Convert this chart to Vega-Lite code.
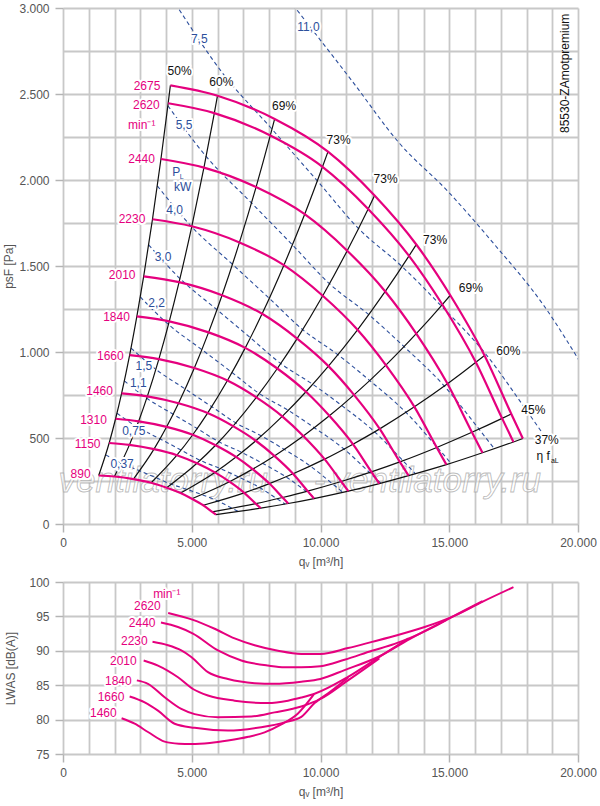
{
"$schema":"https://vega.github.io/schema/vega-lite/v6.json",
"padding":{"left":2,"top":2,"right":5,"bottom":4},
"config":{"font":"Liberation Sans","view":{"stroke":null},
"axis":{"grid":true,"gridColor":"#c8c8c8","gridWidth":1.8,"domain":false,"tickColor":"#b4b4b4","tickWidth":1.5,"tickSize":8,"labelColor":"#555555","labelFontSize":12,"labelFont":"Liberation Sans","labelPadding":5,"titleColor":"#555555","titleFontSize":12,"titleFont":"Liberation Sans","titleFontWeight":"normal","labelFlush":false,"labelOverlap":false},
"text":{"font":"Liberation Sans"}},
"datasets":{
"curves":[
{"n":2675,"e":1,"q":4170,"p":2550},{"n":2675,"e":2,"q":6000,"p":2490},{"n":2675,"e":3,"q":8220,"p":2355},{"n":2675,"e":4,"q":10290,"p":2165},{"n":2675,"e":5,"q":12100,"p":1910},{"n":2675,"e":6,"q":13720,"p":1625},{"n":2675,"e":7,"q":15040,"p":1330},{"n":2675,"e":8,"q":16370,"p":980},{"n":2675,"e":9,"q":17410,"p":640},{"n":2675,"e":10,"q":17860,"p":497},
{"n":2620,"e":1,"q":4084,"p":2446},{"n":2620,"e":2,"q":5877,"p":2389},{"n":2620,"e":3,"q":8051,"p":2259},{"n":2620,"e":4,"q":10078,"p":2077},{"n":2620,"e":5,"q":11851,"p":1832},{"n":2620,"e":6,"q":13438,"p":1559},{"n":2620,"e":7,"q":14731,"p":1276},{"n":2620,"e":8,"q":16033,"p":940},{"n":2620,"e":9,"q":17052,"p":614},{"n":2620,"e":10,"q":17493,"p":477},
{"n":2440,"e":1,"q":3804,"p":2122},{"n":2440,"e":2,"q":5473,"p":2072},{"n":2440,"e":3,"q":7498,"p":1959},{"n":2440,"e":4,"q":9386,"p":1801},{"n":2440,"e":5,"q":11037,"p":1589},{"n":2440,"e":6,"q":12515,"p":1352},{"n":2440,"e":7,"q":13719,"p":1107},{"n":2440,"e":8,"q":14932,"p":815},{"n":2440,"e":9,"q":15881,"p":533},{"n":2440,"e":10,"q":16291,"p":414},
{"n":2230,"e":1,"q":3476,"p":1772},{"n":2230,"e":2,"q":5002,"p":1731},{"n":2230,"e":3,"q":6853,"p":1637},{"n":2230,"e":4,"q":8578,"p":1505},{"n":2230,"e":5,"q":10087,"p":1327},{"n":2230,"e":6,"q":11438,"p":1129},{"n":2230,"e":7,"q":12538,"p":924},{"n":2230,"e":8,"q":13647,"p":681},{"n":2230,"e":9,"q":14514,"p":445},{"n":2230,"e":10,"q":14889,"p":345},
{"n":2010,"e":1,"q":3133,"p":1440},{"n":2010,"e":2,"q":4508,"p":1406},{"n":2010,"e":3,"q":6177,"p":1330},{"n":2010,"e":4,"q":7732,"p":1222},{"n":2010,"e":5,"q":9092,"p":1078},{"n":2010,"e":6,"q":10309,"p":918},{"n":2010,"e":7,"q":11301,"p":751},{"n":2010,"e":8,"q":12300,"p":553},{"n":2010,"e":9,"q":13082,"p":361},{"n":2010,"e":10,"q":13420,"p":281},
{"n":1840,"e":1,"q":2868,"p":1207},{"n":1840,"e":2,"q":4127,"p":1178},{"n":1840,"e":3,"q":5654,"p":1114},{"n":1840,"e":4,"q":7078,"p":1024},{"n":1840,"e":5,"q":8323,"p":904},{"n":1840,"e":6,"q":9437,"p":769},{"n":1840,"e":7,"q":10345,"p":629},{"n":1840,"e":8,"q":11260,"p":464},{"n":1840,"e":9,"q":11976,"p":303},{"n":1840,"e":10,"q":12285,"p":235},
{"n":1660,"e":1,"q":2588,"p":982},{"n":1660,"e":2,"q":3723,"p":959},{"n":1660,"e":3,"q":5101,"p":907},{"n":1660,"e":4,"q":6386,"p":834},{"n":1660,"e":5,"q":7509,"p":736},{"n":1660,"e":6,"q":8514,"p":626},{"n":1660,"e":7,"q":9333,"p":512},{"n":1660,"e":8,"q":10159,"p":377},{"n":1660,"e":9,"q":10804,"p":247},{"n":1660,"e":10,"q":11083,"p":191},
{"n":1460,"e":1,"q":2276,"p":760},{"n":1460,"e":2,"q":3275,"p":742},{"n":1460,"e":3,"q":4486,"p":702},{"n":1460,"e":4,"q":5616,"p":645},{"n":1460,"e":5,"q":6604,"p":569},{"n":1460,"e":6,"q":7488,"p":484},{"n":1460,"e":7,"q":8209,"p":396},{"n":1460,"e":8,"q":8935,"p":292},{"n":1460,"e":9,"q":9502,"p":191},{"n":1460,"e":10,"q":9748,"p":148},
{"n":1310,"e":1,"q":2042,"p":612},{"n":1310,"e":2,"q":2938,"p":597},{"n":1310,"e":3,"q":4026,"p":565},{"n":1310,"e":4,"q":5039,"p":519},{"n":1310,"e":5,"q":5926,"p":458},{"n":1310,"e":6,"q":6719,"p":390},{"n":1310,"e":7,"q":7365,"p":319},{"n":1310,"e":8,"q":8017,"p":235},{"n":1310,"e":9,"q":8526,"p":154},{"n":1310,"e":10,"q":8746,"p":119},
{"n":1150,"e":1,"q":1793,"p":471},{"n":1150,"e":2,"q":2580,"p":460},{"n":1150,"e":3,"q":3534,"p":435},{"n":1150,"e":4,"q":4424,"p":400},{"n":1150,"e":5,"q":5202,"p":353},{"n":1150,"e":6,"q":5898,"p":300},{"n":1150,"e":7,"q":6466,"p":246},{"n":1150,"e":8,"q":7038,"p":181},{"n":1150,"e":9,"q":7485,"p":118},{"n":1150,"e":10,"q":7678,"p":92},
{"n":890,"e":1,"q":1387,"p":282},{"n":890,"e":2,"q":1996,"p":276},{"n":890,"e":3,"q":2735,"p":261},{"n":890,"e":4,"q":3424,"p":240},{"n":890,"e":5,"q":4026,"p":211},{"n":890,"e":6,"q":4565,"p":180},{"n":890,"e":7,"q":5004,"p":147},{"n":890,"e":8,"q":5447,"p":109},{"n":890,"e":9,"q":5793,"p":71},{"n":890,"e":10,"q":5942,"p":55}
],
"power":[
{"P":"0,37","e":1,"q":1656,"p":402},{"P":"0,37","e":2,"q":2261,"p":354},{"P":"0,37","e":3,"q":2976,"p":309},{"P":"0,37","e":4,"q":3623,"p":268},{"P":"0,37","e":5,"q":4209,"p":231},{"P":"0,37","e":6,"q":4829,"p":201},{"P":"0,37","e":7,"q":5387,"p":171},{"P":"0,37","e":8,"q":6023,"p":133},{"P":"0,37","e":9,"q":6572,"p":91},{"P":"0,37","e":10,"q":6814,"p":72},
{"P":"0,75","e":1,"q":2096,"p":644},{"P":"0,75","e":2,"q":2861,"p":566},{"P":"0,75","e":3,"q":3766,"p":495},{"P":"0,75","e":4,"q":4585,"p":430},{"P":"0,75","e":5,"q":5327,"p":370},{"P":"0,75","e":6,"q":6111,"p":322},{"P":"0,75","e":7,"q":6818,"p":273},{"P":"0,75","e":8,"q":7623,"p":213},{"P":"0,75","e":9,"q":8317,"p":146},{"P":"0,75","e":10,"q":8624,"p":116},
{"P":"1,1","e":1,"q":2381,"p":832},{"P":"1,1","e":2,"q":3251,"p":731},{"P":"1,1","e":3,"q":4279,"p":638},{"P":"1,1","e":4,"q":5210,"p":555},{"P":"1,1","e":5,"q":6052,"p":478},{"P":"1,1","e":6,"q":6944,"p":416},{"P":"1,1","e":7,"q":7746,"p":353},{"P":"1,1","e":8,"q":8661,"p":274},{"P":"1,1","e":9,"q":9450,"p":189},{"P":"1,1","e":10,"q":9798,"p":149},
{"P":"1,5","e":1,"q":2641,"p":1023},{"P":"1,5","e":2,"q":3605,"p":899},{"P":"1,5","e":3,"q":4745,"p":785},{"P":"1,5","e":4,"q":5777,"p":682},{"P":"1,5","e":5,"q":6711,"p":588},{"P":"1,5","e":6,"q":7700,"p":512},{"P":"1,5","e":7,"q":8590,"p":434},{"P":"1,5","e":8,"q":9604,"p":337},{"P":"1,5","e":9,"q":10479,"p":232},{"P":"1,5","e":10,"q":10865,"p":184},
{"P":"2,2","e":1,"q":3000,"p":1320},{"P":"2,2","e":2,"q":4096,"p":1160},{"P":"2,2","e":3,"q":5391,"p":1014},{"P":"2,2","e":4,"q":6564,"p":881},{"P":"2,2","e":5,"q":7625,"p":758},{"P":"2,2","e":6,"q":8748,"p":661},{"P":"2,2","e":7,"q":9759,"p":560},{"P":"2,2","e":8,"q":10912,"p":436},{"P":"2,2","e":9,"q":11906,"p":299},{"P":"2,2","e":10,"q":12345,"p":237},
{"P":"3,0","e":1,"q":3327,"p":1623},{"P":"3,0","e":2,"q":4542,"p":1427},{"P":"3,0","e":3,"q":5979,"p":1246},{"P":"3,0","e":4,"q":7278,"p":1083},{"P":"3,0","e":5,"q":8456,"p":933},{"P":"3,0","e":6,"q":9701,"p":812},{"P":"3,0","e":7,"q":10822,"p":689},{"P":"3,0","e":8,"q":12100,"p":536},{"P":"3,0","e":9,"q":13203,"p":368},{"P":"3,0","e":10,"q":13689,"p":292},
{"P":"4,0","e":1,"q":3662,"p":1966},{"P":"4,0","e":2,"q":4999,"p":1728},{"P":"4,0","e":3,"q":6580,"p":1510},{"P":"4,0","e":4,"q":8011,"p":1312},{"P":"4,0","e":5,"q":9307,"p":1130},{"P":"4,0","e":6,"q":10678,"p":984},{"P":"4,0","e":7,"q":11911,"p":834},{"P":"4,0","e":8,"q":13318,"p":649},{"P":"4,0","e":9,"q":14532,"p":446},{"P":"4,0","e":10,"q":15067,"p":353},
{"P":"5,5","e":1,"q":4072,"p":2432},{"P":"5,5","e":2,"q":5559,"p":2137},{"P":"5,5","e":3,"q":7317,"p":1867},{"P":"5,5","e":4,"q":8908,"p":1623},{"P":"5,5","e":5,"q":10349,"p":1397},{"P":"5,5","e":6,"q":11874,"p":1217},{"P":"5,5","e":7,"q":13245,"p":1031},{"P":"5,5","e":8,"q":14809,"p":802},{"P":"5,5","e":9,"q":16159,"p":551},{"P":"5,5","e":10,"q":16754,"p":437},
{"P":"7,5","e":1,"q":4515,"p":2990},{"P":"7,5","e":2,"q":6165,"p":2628},{"P":"7,5","e":3,"q":8114,"p":2296},{"P":"7,5","e":4,"q":9878,"p":1995},{"P":"7,5","e":5,"q":11476,"p":1718},{"P":"7,5","e":6,"q":13167,"p":1497},{"P":"7,5","e":7,"q":14688,"p":1268},{"P":"7,5","e":8,"q":16422,"p":987},{"P":"7,5","e":9,"q":17919,"p":678},{"P":"7,5","e":10,"q":18579,"p":537},
{"P":"11,0","e":1,"q":5130,"p":3860},{"P":"11,0","e":2,"q":7004,"p":3392},{"P":"11,0","e":3,"q":9219,"p":2963},{"P":"11,0","e":4,"q":11224,"p":2576},{"P":"11,0","e":5,"q":13039,"p":2218},{"P":"11,0","e":6,"q":14960,"p":1932},{"P":"11,0","e":7,"q":16688,"p":1637},{"P":"11,0","e":8,"q":18659,"p":1273},{"P":"11,0","e":9,"q":20359,"p":875},{"P":"11,0","e":10,"q":21109,"p":694}
],
"toplabels":[
{"t":"2675","q":3262,"p":2549,"kind":"speed"},{"t":"2620","q":3235,"p":2438,"kind":"speed"},{"t":"min⁻¹","q":3060,"p":2322,"kind":"speed"},{"t":"2440","q":3052,"p":2124,"kind":"speed"},{"t":"2230","q":2680,"p":1776,"kind":"speed"},{"t":"2010","q":2297,"p":1446,"kind":"speed"},{"t":"1840","q":2077,"p":1203,"kind":"speed"},{"t":"1660","q":1837,"p":977,"kind":"speed"},{"t":"1460","q":1422,"p":772,"kind":"speed"},{"t":"1310","q":1184,"p":603,"kind":"speed"},{"t":"1150","q":955,"p":467,"kind":"speed"},{"t":"890","q":683,"p":293,"kind":"speed"},
{"t":"50%","q":4528,"p":2632,"kind":"eff"},{"t":"60%","q":6148,"p":2570,"kind":"eff"},{"t":"69%","q":8586,"p":2428,"kind":"eff"},{"t":"73%","q":10703,"p":2235,"kind":"eff"},{"t":"73%","q":12528,"p":2004,"kind":"eff"},{"t":"73%","q":14450,"p":1653,"kind":"eff"},{"t":"69%","q":15837,"p":1372,"kind":"eff"},{"t":"60%","q":17293,"p":1006,"kind":"eff"},{"t":"45%","q":18264,"p":661,"kind":"eff"},{"t":"37%","q":18788,"p":491,"kind":"eff"},{"t":"η f","q":18652,"p":394,"kind":"eff"},
{"t":"7,5","q":5293,"p":2822,"kind":"power"},{"t":"11,0","q":9534,"p":2890,"kind":"power"},{"t":"5,5","q":4699,"p":2318,"kind":"power"},{"t":"P","q":4400,"p":2045,"kind":"power"},{"t":"kW","q":4645,"p":1959,"kind":"power"},{"t":"4,0","q":4338,"p":1828,"kind":"power"},{"t":"3,0","q":3883,"p":1552,"kind":"power"},{"t":"2,2","q":3635,"p":1285,"kind":"power"},{"t":"1,5","q":3138,"p":917,"kind":"power"},{"t":"1,1","q":2924,"p":820,"kind":"power"},{"t":"0,75","q":2750,"p":541,"kind":"power"},{"t":"0,37","q":2295,"p":347,"kind":"power"}
],
"subs":[{"t":"L","q":4614,"p":2020,"kind":"power"},{"t":"aL","q":19099,"p":365,"kind":"eff"}],
"wm":[{"t":"ventilatorry.ru","q":3896,"p":184},{"t":"-","q":9965,"p":184},{"t":"ventilatorry.ru","q":14497,"p":184}],
"lw":[
{"n":2620,"q":4084,"L":95.5},{"n":2620,"q":5047,"L":94.5},{"n":2620,"q":5889,"L":93.2},{"n":2620,"q":6666,"L":91.8},{"n":2620,"q":7442,"L":90.8},{"n":2620,"q":8349,"L":90.0},{"n":2620,"q":9255,"L":89.55},{"n":2620,"q":10000,"L":89.55},{"n":2620,"q":11068,"L":90.4},{"n":2620,"q":12000,"L":91.3},{"n":2620,"q":13010,"L":92.3},{"n":2620,"q":14043,"L":93.45},{"n":2620,"q":15150,"L":95.0},{"n":2620,"q":16300,"L":97.15},{"n":2620,"q":17493,"L":99.25},
{"n":2440,"q":3804,"L":94.1},{"n":2440,"q":4465,"L":93.45},{"n":2440,"q":5047,"L":92.5},{"n":2440,"q":6018,"L":90.05},{"n":2440,"q":6924,"L":88.6},{"n":2440,"q":7960,"L":87.85},{"n":2440,"q":8607,"L":87.6},{"n":2440,"q":9255,"L":87.6},{"n":2440,"q":9995,"L":87.75},{"n":2440,"q":10936,"L":88.7},{"n":2440,"q":12000,"L":90.0},{"n":2440,"q":12878,"L":91.0},{"n":2440,"q":13460,"L":91.84},{"n":2440,"q":14300,"L":93.3},{"n":2440,"q":15150,"L":95.0},{"n":2440,"q":16291,"L":97.2},
{"n":2230,"q":3476,"L":91.3},{"n":2230,"q":4076,"L":90.8},{"n":2230,"q":4594,"L":90.05},{"n":2230,"q":4982,"L":89.1},{"n":2230,"q":5629,"L":86.9},{"n":2230,"q":6406,"L":85.9},{"n":2230,"q":7442,"L":85.3},{"n":2230,"q":8219,"L":85.2},{"n":2230,"q":9255,"L":85.5},{"n":2230,"q":9995,"L":85.9},{"n":2230,"q":10936,"L":87.2},{"n":2230,"q":12233,"L":89.1},{"n":2230,"q":13460,"L":91.7},{"n":2230,"q":14889,"L":94.5},
{"n":2010,"q":3133,"L":88.6},{"n":2010,"q":3688,"L":87.85},{"n":2010,"q":4465,"L":86.15},{"n":2010,"q":5047,"L":84.45},{"n":2010,"q":5629,"L":83.5},{"n":2010,"q":6666,"L":82.75},{"n":2010,"q":7960,"L":82.4},{"n":2010,"q":8737,"L":82.75},{"n":2010,"q":9255,"L":83.2},{"n":2010,"q":9771,"L":83.75},{"n":2010,"q":11068,"L":86.2},{"n":2010,"q":12361,"L":89.3},{"n":2010,"q":13420,"L":91.8},
{"n":1840,"q":2868,"L":85.7},{"n":1840,"q":3300,"L":85.2},{"n":1840,"q":3947,"L":83.25},{"n":1840,"q":4594,"L":81.55},{"n":1840,"q":5112,"L":80.8},{"n":1840,"q":6018,"L":80.35},{"n":1840,"q":7313,"L":80.45},{"n":1840,"q":8219,"L":81.05},{"n":1840,"q":9255,"L":81.9},{"n":1840,"q":10000,"L":83.0},{"n":1840,"q":11068,"L":85.7},{"n":1840,"q":12285,"L":88.9},
{"n":1660,"q":2588,"L":83.35},{"n":1660,"q":3171,"L":82.5},{"n":1660,"q":3688,"L":81.3},{"n":1660,"q":4335,"L":79.4},{"n":1660,"q":5112,"L":78.8},{"n":1660,"q":6406,"L":78.4},{"n":1660,"q":7701,"L":78.9},{"n":1660,"q":8607,"L":79.6},{"n":1660,"q":9255,"L":80.4},{"n":1660,"q":9771,"L":82.4},{"n":1660,"q":10400,"L":84.1},{"n":1660,"q":11083,"L":86.15},
{"n":1460,"q":2276,"L":80.2},{"n":1460,"q":2783,"L":79.4},{"n":1460,"q":3300,"L":78.2},{"n":1460,"q":3947,"L":76.8},{"n":1460,"q":4500,"L":76.5},{"n":1460,"q":4982,"L":76.45},{"n":1460,"q":5700,"L":76.6},{"n":1460,"q":6406,"L":76.95},{"n":1460,"q":7200,"L":77.5},{"n":1460,"q":7830,"L":78.15},{"n":1460,"q":8478,"L":79.3},{"n":1460,"q":9126,"L":80.9},{"n":1460,"q":9748,"L":83.7}
],
"botlabels":[
{"t":"min⁻¹","q":4031,"L":98.31},{"t":"2620","q":3274,"L":96.5},{"t":"2440","q":3073,"L":94.08},{"t":"2230","q":2769,"L":91.36},{"t":"2010","q":2342,"L":88.49},{"t":"1840","q":2148,"L":85.58},{"t":"1660","q":1864,"L":83.25},{"t":"1460","q":1565,"L":80.91}
]
},
"vconcat":[
{
"width":515,"height":516,
"encoding":{
"x":{"field":"q","type":"quantitative","scale":{"domain":[0,20000],"nice":false,"zero":false},
 "axis":{"values":[0,1000,2000,3000,4000,5000,6000,7000,8000,9000,10000,11000,12000,13000,14000,15000,16000,17000,18000,19000,20000],"title":"qᵥ [m³/h]","titlePadding":8,
 "labelExpr":"datum.value % 5000 === 0 ? replace(format(datum.value, ','), ',', '.') : ''",
 "tickOpacity":{"condition":{"test":"datum.value % 5000 === 0","value":1},"value":0}}},
"y":{"field":"p","type":"quantitative","scale":{"domain":[0,3000],"nice":false,"zero":false},
 "axis":{"values":[0,250,500,750,1000,1250,1500,1750,2000,2250,2500,2750,3000],"title":"psF [Pa]","titleX":-48,"labelPadding":6,
 "labelExpr":"datum.value % 500 === 0 ? replace(format(datum.value, ','), ',', '.') : ''",
 "tickOpacity":{"condition":{"test":"datum.value % 500 === 0","value":1},"value":0}}}
},
"layer":[
{"data":{"name":"wm"},"mark":{"type":"text","fontSize":35,"fontStyle":"italic","align":"center","baseline":"alphabetic","fill":"#ffffff","fillOpacity":0.5,"stroke":"#a0a0a0","strokeWidth":0.9,"strokeOpacity":0.7},"encoding":{"text":{"field":"t"}}},
{"data":{"name":"power"},"mark":{"type":"line","clip":true,"color":"#2d4f9c","strokeWidth":1.1,"strokeDash":[4,3],"interpolate":"monotone"},"encoding":{"detail":{"field":"P"},"order":{"field":"e","type":"quantitative"}}},
{"data":{"name":"curves"},"mark":{"type":"line","color":"#111111","strokeWidth":1.2,"interpolate":"monotone"},"encoding":{"detail":{"field":"e"},"order":{"field":"n","type":"quantitative"}}},
{"data":{"name":"curves"},"mark":{"type":"line","color":"#e5007e","strokeWidth":2.2,"interpolate":"monotone"},"encoding":{"detail":{"field":"n"},"order":{"field":"e","type":"quantitative"}}},
{"data":{"name":"toplabels"},"mark":{"type":"text","fontSize":12,"align":"center","baseline":"middle","fill":"#ffffff","stroke":"#ffffff","strokeWidth":4,"strokeJoin":"round"},"encoding":{"text":{"field":"t"}}},
{"data":{"name":"toplabels"},"mark":{"type":"text","fontSize":12,"align":"center","baseline":"middle"},"encoding":{"text":{"field":"t"},"color":{"field":"kind","type":"nominal","scale":{"domain":["speed","eff","power"],"range":["#e5007e","#111111","#2d4f9c"]},"legend":null}}},
{"data":{"name":"subs"},"mark":{"type":"text","fontSize":7,"align":"center","baseline":"middle"},"encoding":{"text":{"field":"t"},"color":{"field":"kind","type":"nominal","scale":{"domain":["speed","eff","power"],"range":["#e5007e","#111111","#2d4f9c"]},"legend":null}}},
{"data":{"values":[{"t":"85530-ZAmotpremium","q":19507,"p":2620}]},"mark":{"type":"text","angle":270,"fontSize":12,"align":"center","baseline":"middle","color":"#111111"},"encoding":{"text":{"field":"t"}}}
]
},
{
"width":515,"height":172,
"encoding":{
"x":{"field":"q","type":"quantitative","scale":{"domain":[0,20000],"nice":false,"zero":false},
 "axis":{"values":[0,1000,2000,3000,4000,5000,6000,7000,8000,9000,10000,11000,12000,13000,14000,15000,16000,17000,18000,19000,20000],"title":"qᵥ [m³/h]","titlePadding":8,
 "labelExpr":"datum.value % 5000 === 0 ? replace(format(datum.value, ','), ',', '.') : ''",
 "tickOpacity":{"condition":{"test":"datum.value % 5000 === 0","value":1},"value":0}}},
"y":{"field":"L","type":"quantitative","scale":{"domain":[75,100],"nice":false,"zero":false},
 "axis":{"values":[75,80,85,90,95,100],"title":"LWAS [dB(A)]","titleX":-46,"labelPadding":6}}
},
"layer":[
{"data":{"name":"lw"},"mark":{"type":"line","color":"#e5007e","strokeWidth":2,"interpolate":"monotone","clip":true},"encoding":{"detail":{"field":"n"}}},
{"data":{"name":"botlabels"},"mark":{"type":"text","fontSize":12,"align":"center","baseline":"middle","fill":"#ffffff","stroke":"#ffffff","strokeWidth":4,"strokeJoin":"round"},"encoding":{"text":{"field":"t"}}},
{"data":{"name":"botlabels"},"mark":{"type":"text","fontSize":12,"align":"center","baseline":"middle","color":"#e5007e"},"encoding":{"text":{"field":"t"}}}
]
}
],
"spacing":58,
"bounds":"flush"
}
